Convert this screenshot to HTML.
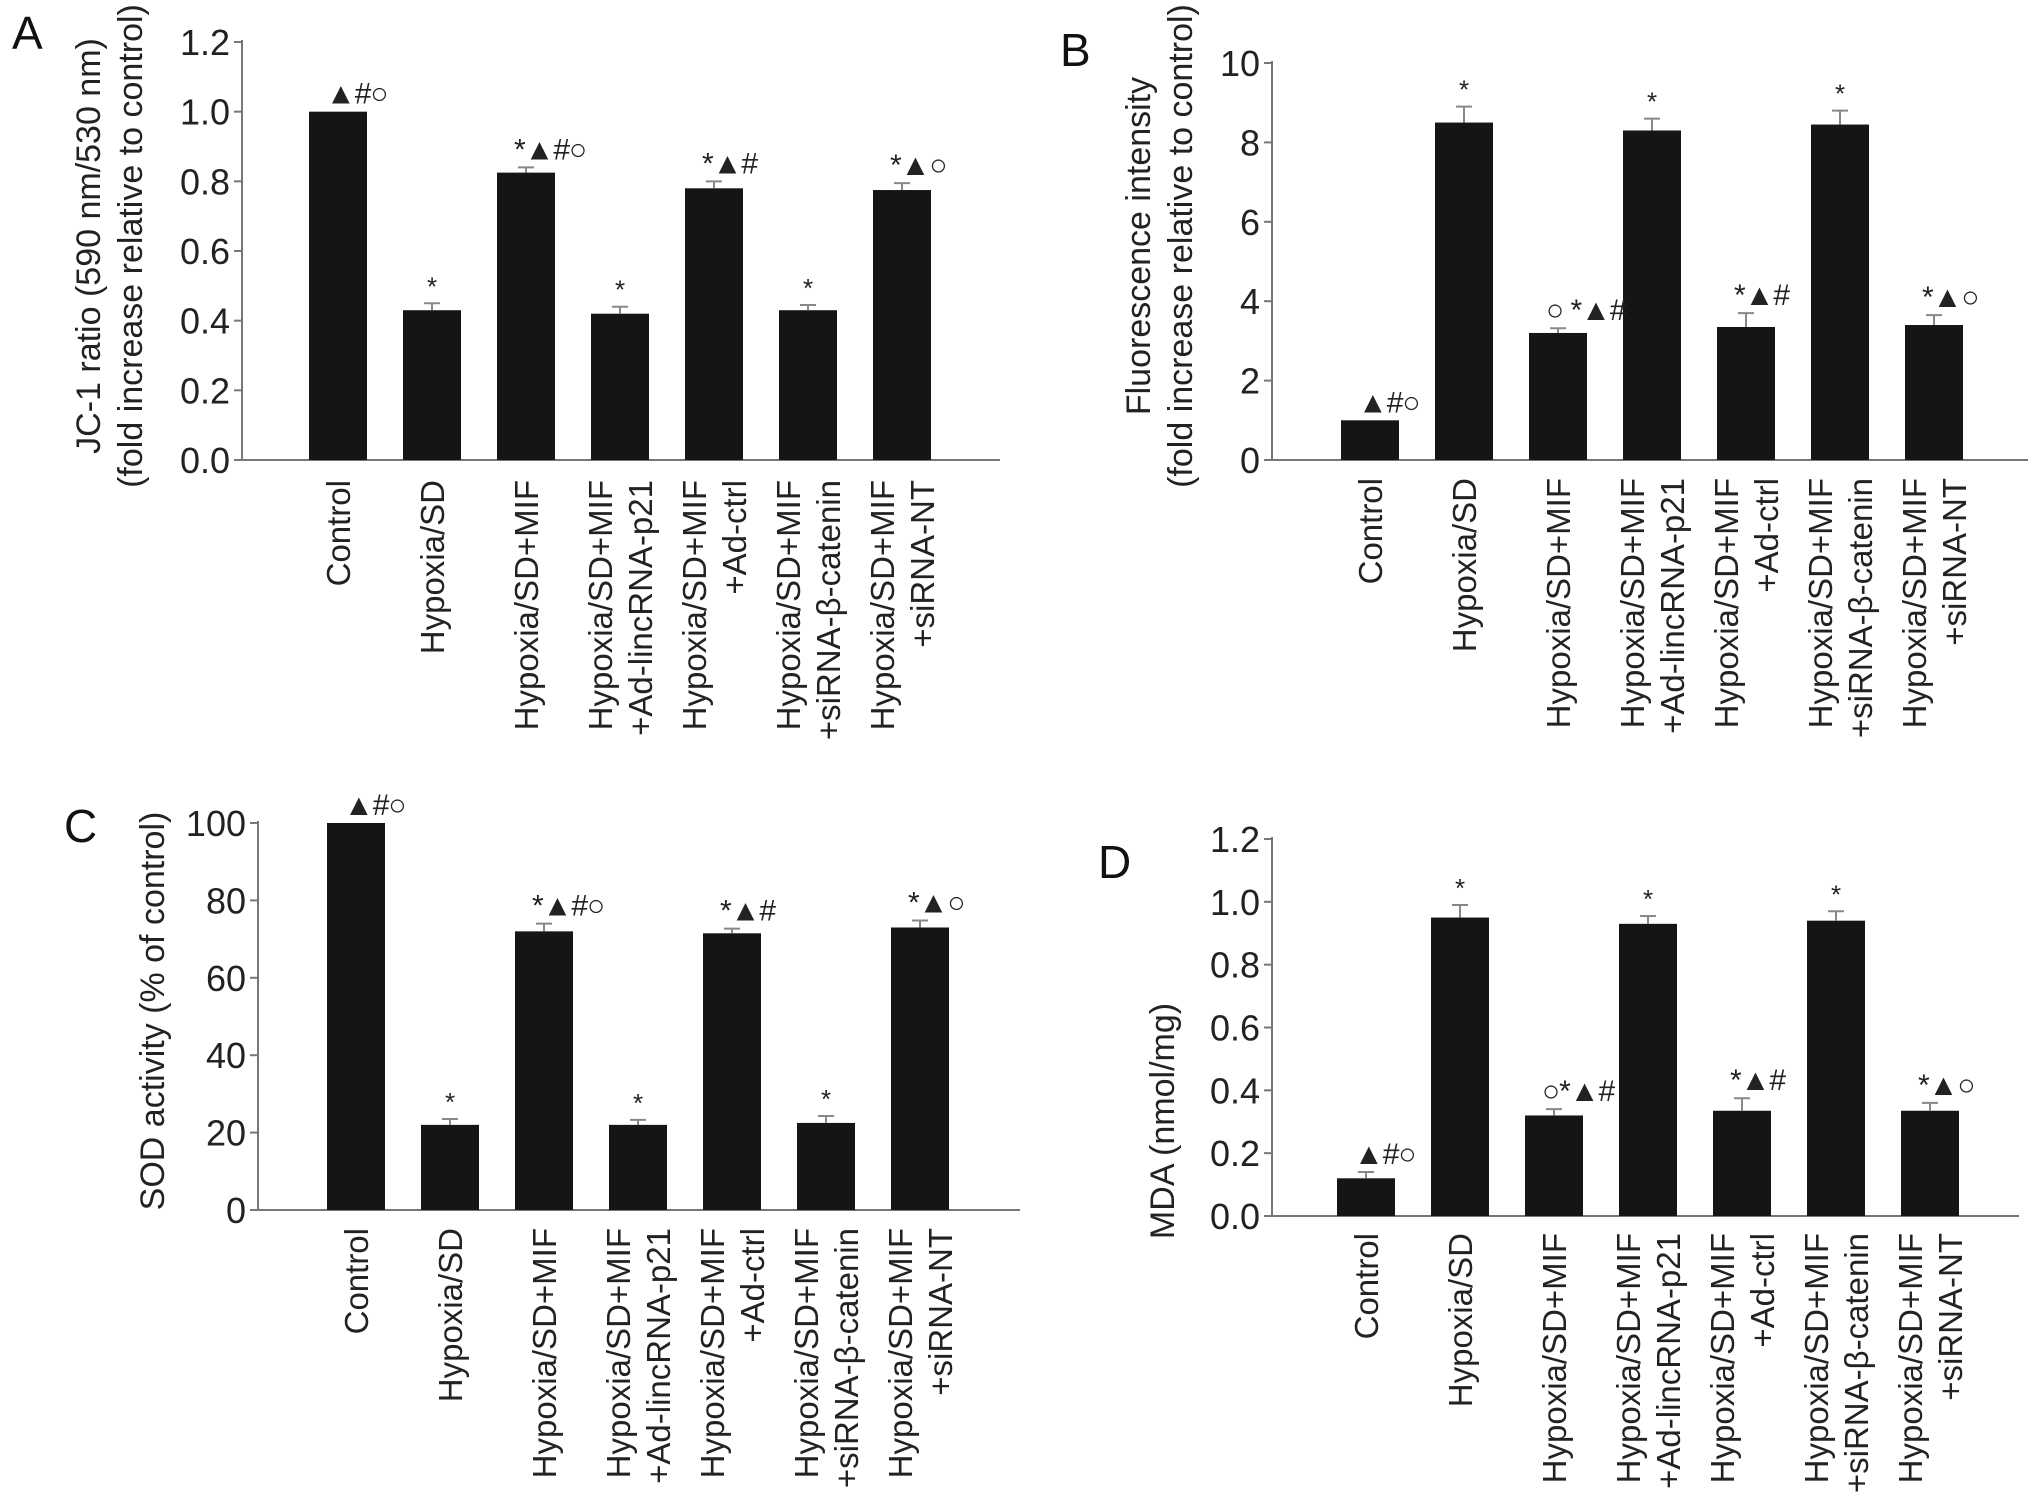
<!DOCTYPE html>
<html><head><meta charset="utf-8"><style>
html,body{margin:0;padding:0;background:#fff;}
svg{display:block;font-family:"Liberation Sans",Arial,sans-serif;}
</style></head><body>
<svg id="fig" width="2032" height="1504" viewBox="0 0 2032 1504" xmlns="http://www.w3.org/2000/svg"></svg>
<script>
const categories = [["Control"],["Hypoxia/SD"],["Hypoxia/SD+MIF"],["Hypoxia/SD+MIF","+Ad-lincRNA-p21"],["Hypoxia/SD+MIF","+Ad-ctrl"],["Hypoxia/SD+MIF","+siRNA-\u03b2-catenin"],["Hypoxia/SD+MIF","+siRNA-NT"]];
const valuesA = [1.0, 0.43, 0.825, 0.42, 0.78, 0.43, 0.775];
const errorsA = [0, 0.02, 0.015, 0.02, 0.02, 0.015, 0.02];
const ticksA = ["0.0","0.2","0.4","0.6","0.8","1.0","1.2"];
const notesA = ["\u25B2#\u25CB","*","*\u25B2#\u25CB","*","*\u25B2#","*","*\u25B2\u25CB"];
const valuesB = [1.0, 8.5, 3.2, 8.3, 3.35, 8.45, 3.4];
const errorsB = [0, 0.4, 0.12, 0.3, 0.35, 0.35, 0.25];
const ticksB = ["0","2","4","6","8","10"];
const notesB = ["\u25B2#\u25CB","*","\u25CB *\u25B2#","*","*\u25B2#","*","*\u25B2\u25CB"];
const valuesC = [100, 22, 72, 22, 71.5, 22.5, 73];
const errorsC = [0, 1.5, 2, 1.3, 1.2, 1.8, 1.8];
const ticksC = ["0","20","40","60","80","100"];
const notesC = ["\u25B2#\u25CB","*","*\u25B2#\u25CB","*","*\u25B2#","*","*\u25B2\u25CB"];
const valuesD = [0.12, 0.95, 0.32, 0.93, 0.335, 0.94, 0.335];
const errorsD = [0.02, 0.04, 0.02, 0.025, 0.04, 0.03, 0.025];
const ticksD = ["0.0","0.2","0.4","0.6","0.8","1.0","1.2"];
const notesD = ["\u25B2#\u25CB","*","\u25CB*\u25B2#","*","*\u25B2#","*","*\u25B2\u25CB"];

const NS = "http://www.w3.org/2000/svg";
const svg = document.getElementById("fig");
function mk(tag, attrs, parent){
  const e = document.createElementNS(NS, tag);
  for (const k in attrs) e.setAttribute(k, attrs[k]);
  (parent||svg).appendChild(e);
  return e;
}
function panel(p){
  const g = mk("g", {});
  
  
  const maxV = parseFloat(p.ticks[p.ticks.length-1]);
  const y = v => p.y0 - (v/maxV)*(p.y0 - p.yTop);
  const xc = i => p.firstCx + i*94;
  const L = mk("text", {x:p.lx, y:p.ly, "font-size":46, fill:"#111"}, g);
  L.textContent = p.letter;
  
  
  const ax = mk("line", {x1:p.ax, y1:p.yTop-2, x2:p.ax, y2:p.y0, stroke:"#777", "stroke-width":2}, g);
  
  
  const bx = mk("line", {x1:p.ax, y1:p.y0, x2:p.axEnd, y2:p.y0, stroke:"#777", "stroke-width":2}, g);
  
  
  p.ticks.forEach(t => {
    const ty = y(parseFloat(t));
    mk("line", {x1:p.ax-8, y1:ty, x2:p.ax, y2:ty, stroke:"#777", "stroke-width":2}, g);
    const tt = mk("text", {x:p.ax-12, y:ty+13, "font-size":36, "text-anchor":"end", fill:"#222"}, g);
    tt.textContent = t;
    
    
  });
  const yl = mk("text", {transform:`translate(${p.ylx},${p.yly}) rotate(-90)`, "font-size":34, "text-anchor":"middle", fill:"#222"}, g);
  p.ylabel.forEach((s,k) => {
    const ts = mk("tspan", {x:0, dy: k===0?0:42}, yl);
    ts.textContent = s;
  });
  
  
  const tops = [];
  p.values.forEach((v,i) => {
    const cx = xc(i), top = y(v);
    const r = mk("rect", {x:cx-29, y:top, width:58, height:p.y0-top, fill:"#151515"}, g);
    
    
    let et = top;
    if (p.errors[i] > 0){
      et = y(v + p.errors[i]);
      const eb = mk("path", {d:`M${cx},${top} V${et} M${cx-8},${et} H${cx+8}`, stroke:"#888", "stroke-width":2, fill:"none"}, g);
      
      
    }
    tops.push(et);
    const lines = categories[i];
    lines.forEach((s,k) => {
      const off = lines.length===1 ? 0 : (k===0?-20:20);
      const bxp = cx + off + 12;
      const ct = mk("text", {transform:`translate(${bxp},${p.labTop}) rotate(-90)`, "font-size":33, "text-anchor":"end", fill:"#222"}, g);
      ct.textContent = s;
      
      
    });
  });
  p.values.forEach((v,i) => {
    const cx = xc(i);
    const multi = p.notes[i].length>1;
    const n = mk("text", {x: multi ? cx-12 : cx, y:tops[i]-8, "font-size":multi?30:26, "text-anchor":multi?"start":"middle", "letter-spacing":multi?-1:0, fill:"#222"}, g);
    n.textContent = p.notes[i];
    
    
  });
}
panel({letter:"A", lx:12, ly:49, ax:242, axEnd:1000, y0:460, yTop:42, firstCx:338, labTop:480,
  ticks:ticksA, values:valuesA, errors:errorsA, notes:notesA,
  ylabel:["JC-1 ratio (590 nm/530 nm)","(fold increase relative to control)"], ylx:100, yly:246});
panel({letter:"B", lx:1060, ly:66, ax:1272, axEnd:2028, y0:460, yTop:63, firstCx:1370, labTop:478,
  ticks:ticksB, values:valuesB, errors:errorsB, notes:notesB,
  ylabel:["Fluorescence intensity","(fold increase relative to control)"], ylx:1150, yly:246});
panel({letter:"C", lx:64, ly:842, ax:258, axEnd:1020, y0:1210, yTop:823, firstCx:356, labTop:1228,
  ticks:ticksC, values:valuesC, errors:errorsC, notes:notesC,
  ylabel:["SOD activity (% of control)"], ylx:164, yly:1011});
panel({letter:"D", lx:1098, ly:878, ax:1272, axEnd:2019, y0:1216, yTop:839, firstCx:1366, labTop:1233,
  ticks:ticksD, values:valuesD, errors:errorsD, notes:notesD,
  ylabel:["MDA (nmol/mg)"], ylx:1174, yly:1121});
</script>
</body></html>
